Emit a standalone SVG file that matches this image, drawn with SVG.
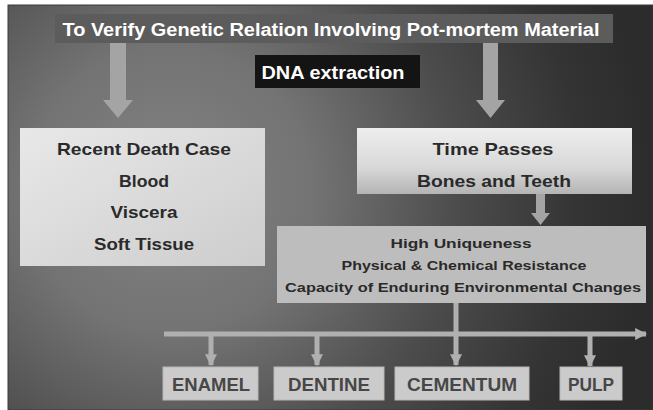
<svg xmlns="http://www.w3.org/2000/svg" width="653" height="410" viewBox="0 0 653 410">
<defs>
<radialGradient id="bg" gradientUnits="userSpaceOnUse" cx="170" cy="190" r="480">
<stop offset="0" stop-color="#838383"/>
<stop offset="0.3" stop-color="#737373"/>
<stop offset="0.6" stop-color="#4c4c4c"/>
<stop offset="0.85" stop-color="#343434"/>
<stop offset="1" stop-color="#2c2c2c"/>
</radialGradient>
<linearGradient id="gLeft" x1="0" y1="0" x2="1" y2="1">
<stop offset="0" stop-color="#e8e8e8"/>
<stop offset="1" stop-color="#cdcdcd"/>
</linearGradient>
<linearGradient id="gTime" x1="0" y1="0" x2="0" y2="1">
<stop offset="0" stop-color="#eeeeee"/>
<stop offset="0.6" stop-color="#d8d8d8"/>
<stop offset="1" stop-color="#b4b4b4"/>
</linearGradient>
<marker id="ah" viewBox="0 0 10 10" refX="9" refY="5" markerWidth="2.4" markerHeight="2.4" orient="auto" markerUnits="strokeWidth">
<path d="M0,0 L10,5 L0,10 Z" fill="#b0b0b0"/>
</marker>
</defs>
<style>
text{font-family:"Liberation Sans","DejaVu Sans",Arial,sans-serif;font-weight:bold;text-anchor:middle}
.dark{fill:#2a2a2a}
.white{fill:#ffffff}
.lbl{fill:#474747;font-size:18px}
.bar{stroke:#b0b0b0;stroke-width:5;fill:none}
.bigarrow{fill:#a4a4a4}
.leaf{fill:#cbcbcb;stroke:#b8b8b8;stroke-width:1}
</style>
<rect x="8" y="5" width="645" height="405" fill="url(#bg)" stroke="#3a3a3a" stroke-width="1"/>

<g id="title">
<rect x="55" y="14" width="558" height="29" fill="#5c5c5c"/>
<text class="white" x="331" y="36" font-size="18" textLength="537" lengthAdjust="spacingAndGlyphs">To Verify Genetic Relation Involving Pot-mortem Material</text>
</g>

<g id="dna">
<rect x="255" y="55" width="165" height="33" fill="#141414"/>
<text class="white" x="333" y="79" font-size="19" textLength="143" lengthAdjust="spacingAndGlyphs">DNA extraction</text>
</g>

<g id="recent">
<rect x="20" y="128" width="245" height="138" fill="url(#gLeft)"/>
<text class="dark" x="144" y="155" font-size="17" textLength="174" lengthAdjust="spacingAndGlyphs">Recent Death Case</text>
<text class="dark" x="144" y="187" font-size="17" textLength="50" lengthAdjust="spacingAndGlyphs">Blood</text>
<text class="dark" x="144" y="218" font-size="17" textLength="67" lengthAdjust="spacingAndGlyphs">Viscera</text>
<text class="dark" x="144" y="250" font-size="17" textLength="100" lengthAdjust="spacingAndGlyphs">Soft Tissue</text>
</g>

<g id="time">
<rect x="357" y="128" width="275" height="66" fill="url(#gTime)"/>
<text class="dark" x="493" y="155" font-size="17" textLength="121" lengthAdjust="spacingAndGlyphs">Time Passes</text>
<text class="dark" x="494" y="187" font-size="17" textLength="154" lengthAdjust="spacingAndGlyphs">Bones and Teeth</text>
</g>

<g id="properties">
<rect x="277" y="226" width="369" height="77" fill="#bdbdbd"/>
<text class="dark" x="461" y="248" font-size="13" textLength="141" lengthAdjust="spacingAndGlyphs">High Uniqueness</text>
<text class="dark" x="464" y="270" font-size="13" textLength="245" lengthAdjust="spacingAndGlyphs">Physical &amp; Chemical Resistance</text>
<text class="dark" x="463" y="292" font-size="13" textLength="356" lengthAdjust="spacingAndGlyphs">Capacity of Enduring Environmental Changes</text>
</g>

<g id="enamel">
<rect class="leaf" x="163" y="367" width="95" height="33"/>
<text class="lbl" x="211" y="391" textLength="78" lengthAdjust="spacingAndGlyphs">ENAMEL</text>
</g>
<g id="dentine">
<rect class="leaf" x="274" y="367" width="110" height="33"/>
<text class="lbl" x="329" y="391" textLength="82" lengthAdjust="spacingAndGlyphs">DENTINE</text>
</g>
<g id="cementum">
<rect class="leaf" x="395" y="367" width="134" height="33"/>
<text class="lbl" x="462" y="391" textLength="110" lengthAdjust="spacingAndGlyphs">CEMENTUM</text>
</g>
<g id="pulp">
<rect class="leaf" x="560" y="367" width="62" height="33"/>
<text class="lbl" x="591" y="391" textLength="46" lengthAdjust="spacingAndGlyphs">PULP</text>
</g>

<g id="connectors">
<path class="bigarrow" d="M110,43 H126 V100 H133 L118,118 L103,100 H110 Z"/>
<path class="bigarrow" d="M483,43 H498 V100 H505 L490.5,118 L476,100 H483 Z"/>
<path class="bigarrow" d="M536,194 H545 V213 H550 L540.5,225 L531,213 H536 Z"/>
<line class="bar" x1="164" y1="334" x2="646" y2="334" marker-end="url(#ah)"/>
<line class="bar" x1="456" y1="303" x2="456" y2="365" marker-end="url(#ah)"/>
<line class="bar" x1="211" y1="334" x2="211" y2="365" marker-end="url(#ah)"/>
<line class="bar" x1="317" y1="334" x2="317" y2="365" marker-end="url(#ah)"/>
<line class="bar" x1="590" y1="334" x2="590" y2="366" marker-end="url(#ah)"/>
</g>
</svg>
